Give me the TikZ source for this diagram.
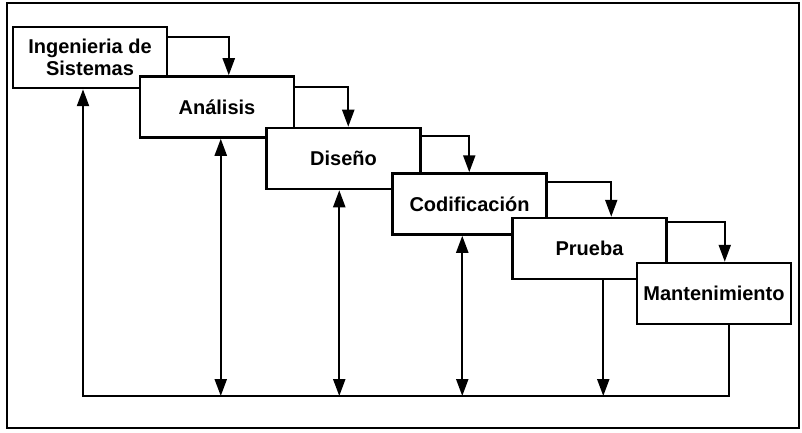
\documentclass[tikz,border=0pt]{standalone}
\usepackage{fontspec}
\setmainfont{Liberation Sans}
\usetikzlibrary{arrows.meta,calc}
\tikzset{
  phase/.style={draw, line width=2.5pt, fill=white, minimum width=154pt, minimum height=61pt,
    inner sep=0pt, align=center, font=\fontsize{20}{22}\selectfont\bfseries},
  link/.style={line width=2.2pt},
  tip/.style={},
  arr/.style={link, -{Triangle[length=17pt,width=12pt]}},
  darr/.style={link, {Triangle[length=17pt,width=12pt]}-{Triangle[length=17pt,width=12pt]}},
}
\begin{document}
\begin{tikzpicture}[x=1pt,y=-1pt]
\useasboundingbox (0,0) rectangle (802,433);
\draw[line width=2.5pt] (7,3) rectangle (799,428);
% boxes (later ones on top)
\node[phase] (ing) at (90,57.5) {Ingenieria de\\Sistemas};
\node[phase] (ana) at (217,107) {Análisis};
\node[phase] (dis) at (343.5,158.5) {Diseño};
\node[phase] (cod) at (469.5,204) {Codificación};
\node[phase] (pru) at (589.5,248.5) {Prueba};
\node[phase] (man) at (714,293.5) {Mantenimiento};
% forward arrows
\draw[arr] ($(ing.north east)+(0,11)$) -| ($(ana.north west)+(90,0)$);
\draw[arr] ($(ana.north east)+(0,12)$) -| ($(dis.north west)+(83,0)$);
\draw[arr] ($(dis.north east)+(0,9)$) -| ($(cod.north west)+(78,0)$);
\draw[arr] ($(cod.north east)+(0,10)$) -| ($(pru.north west)+(100,0)$);
\draw[arr] ($(pru.north east)+(0,5)$) -| ($(man.north west)+(89,0)$);
% feedback
\coordinate (bl) at (83,396);
\coordinate (br) at (731,396);
\draw[arr] ($(man.south west)+(93,0)$) |- (bl) -- (bl |- ing.south);
\coordinate (a1) at ($(ana.south west)+(82,0)$);
\coordinate (d1) at ($(dis.south west)+(74,0)$);
\coordinate (c1) at ($(cod.south west)+(71,0)$);
\coordinate (p1) at ($(pru.south west)+(92,0)$);
\draw[darr] (a1) -- (a1 |- bl);
\draw[darr] (d1) -- (d1 |- bl);
\draw[darr] (c1) -- (c1 |- bl);
\draw[arr] (p1) -- (p1 |- bl);
\end{tikzpicture}
\end{document}
